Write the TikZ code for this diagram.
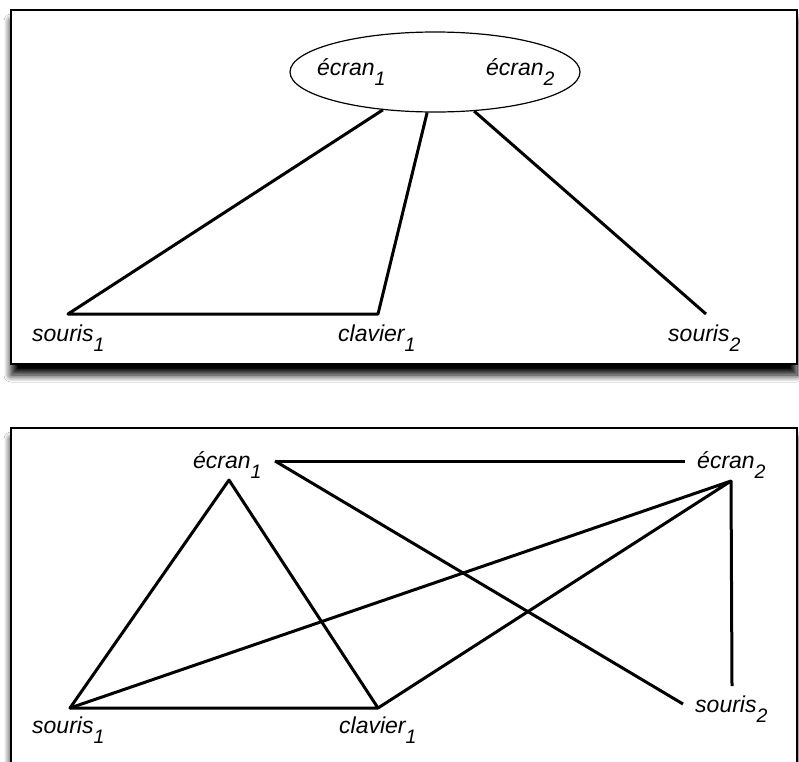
\documentclass[tikz,border=0pt]{standalone}
\usepackage{fontspec}
\setmainfont{Liberation Sans}
\usetikzlibrary{shapes.geometric}
\usetikzlibrary{shadows.blur}
\tikzset{panel/.style={draw=black, line width=1.8pt, fill=white,
   blur shadow={shadow xshift=0pt, shadow yshift=-11pt, shadow blur steps=12,
   shadow blur radius=7pt, shadow opacity=100}},
 lien/.style={line width=3pt, line join=round},
 nom/.style={anchor=base west, inner sep=0pt, font=\fontsize{23}{23}\selectfont\itshape},
 }
\newcommand{\idx}[2]{#1\raisebox{-10pt}{\fontsize{19.5}{19.5}\selectfont #2}}

\begin{document}
\begin{tikzpicture}[x=1pt, y=-1pt]
        \useasboundingbox (0,0) rectangle (799,761);
        \fill[white] (0,0) rectangle (799,761);

        % premier graphe
        \draw[panel] (11,10) rectangle (797,364);
        \node[ellipse, draw, line width=1.2pt, minimum width=290pt, minimum height=80pt] (ecrans) at (435,72) {};
        \node[nom] (t-e1) at (317,75) {\idx{écran}{1}};
        \node[nom] (t-e2) at (486,75) {\idx{écran}{2}};
        \coordinate (s1) at (68,314);
        \coordinate (c1) at (378,314);
        \coordinate (s2) at (706,314);
        \node[nom] (t-s1) at (32,341) {\idx{souris}{1}};
        \node[nom] (t-c1) at (338,341) {\idx{clavier}{1}};
        \node[nom] (t-s2) at (668,341) {\idx{souris}{2}};
        \draw[lien] (ecrans.216) -- (s1) -- (c1) -- (ecrans.259);
        \draw[lien] (ecrans.315) -- (s2);

        % second graphe
        \draw[panel] (11,428) rectangle (797,780);
        \coordinate (e1a) at (229,480);
        \coordinate (e1b) at (275,461);
        \coordinate (e2a) at (685,461);
        \coordinate (e2b) at (731,481);
        \coordinate (s1b) at (70,708);
        \coordinate (c1b) at (378,708);
        \coordinate (s2a) at (683,704);
        \coordinate (s2b) at (732,686);
        \node[nom] (b-e1) at (193,468) {\idx{écran}{1}};
        \node[nom] (b-e2) at (697,468) {\idx{écran}{2}};
        \node[nom] (b-s1) at (32,733) {\idx{souris}{1}};
        \node[nom] (b-c1) at (339,733) {\idx{clavier}{1}};
        \node[nom] (b-s2) at (695,712) {\idx{souris}{2}};
        \draw[lien] (e1a) -- (s1b) -- (c1b) -- cycle;
        \draw[lien] (s1b) -- (e2b) -- (c1b);
        \draw[lien] (e2b) -- (s2b);
        \draw[lien] (e1b) -- (e2a);
        \draw[lien] (e1b) -- (s2a);
    \end{tikzpicture}
\end{document}
